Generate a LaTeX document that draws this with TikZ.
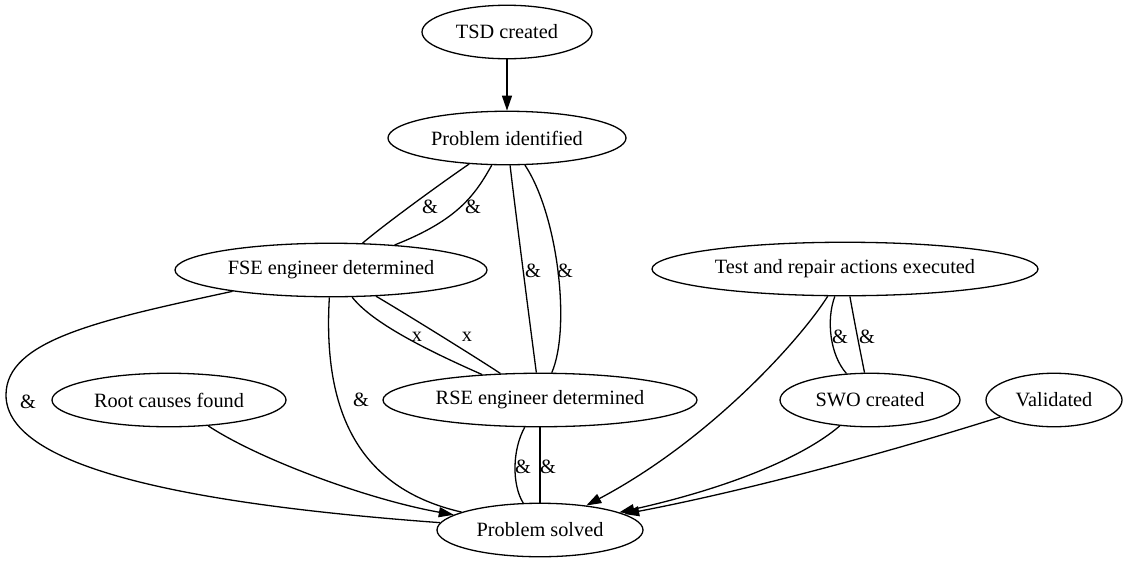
\documentclass[tikz,border=0pt]{standalone}
\usepackage{fontspec}
\setmainfont{Liberation Serif}
\usetikzlibrary{shapes.geometric,arrows.meta}

\begin{document}
\begin{tikzpicture}[x=1pt,y=1pt,line width=1.3pt]
\tikzstyle{every node}+=[inner sep=0pt, font=\fontsize{20.3pt}{24pt}\selectfont]
\tikzstyle{state}=[draw=black, ellipse, minimum height=53.5pt]
\tikzstyle{arr}=[-{Triangle[length=15pt,width=10pt]}]
\useasboundingbox (0,0) rectangle (1127,-563);
\node [state, minimum width=170pt] (tsd) at (507,-32) {TSD created};
\node [state, minimum width=238pt] (pid) at (507,-138) {Problem identified};
\node [state, minimum width=312pt] (fse) at (331,-270) {FSE engineer determined};
\node [state, minimum width=386pt] (tra) at (845,-269) {Test and repair actions executed};
\node [state, minimum width=234pt] (root) at (169,-400) {Root causes found};
\node [state, minimum width=314pt] (rse) at (540,-400) {RSE engineer determined};
\node [state, minimum width=180pt] (swo) at (870,-400) {SWO created};
\node [state, minimum width=136pt] (val) at (1054,-400) {Validated};
\node [state, minimum width=206pt] (ps) at (540,-530) {Problem solved};
\draw [black, arr] (tsd) -- (pid);
\draw [black] (pid) .. controls (440,-184) and (385,-224) .. (fse);
\node (and1) at (430,-207) {\&};
\draw [black] (pid) .. controls (475,-195) and (458,-220) .. (fse);
\node (and2) at (473,-207) {\&};
\draw [black] (pid) .. controls (514,-200) and (532,-340) .. (rse);
\node (and3) at (533,-271) {\&};
\draw [black] (pid) .. controls (558,-215) and (571,-328) .. (rse);
\node (and4) at (565,-271) {\&};
\draw [black] (fse) .. controls (370,-320) and (415,-345) .. (rse);
\node (x1) at (417,-337) {x};
\draw [black] (fse) .. controls (400,-310.2) and (480,-359.8) .. (rse);
\node (x2) at (467,-337) {x};
\draw [black] (fse) .. controls (100,-320) and (6,-340) .. (6,-395) .. controls (6,-470) and (200,-505) .. (ps);
\node (and5) at (28,-402) {\&};
\draw [black] (fse) .. controls (322,-420) and (365,-490) .. (ps);
\node (and6) at (361,-400) {\&};
\draw [black, arr] (root) .. controls (260,-460) and (370,-500) .. (ps);
\draw [black] (rse) .. controls (512,-450) and (512,-485) .. (ps);
\node (and7) at (523,-467) {\&};
\draw [black] (rse) -- (ps);
\node (and8) at (548,-467) {\&};
\draw [black, arr] (tra) .. controls (800,-340) and (710,-440) .. (ps);
\draw [black] (tra) .. controls (826,-320) and (830,-355) .. (swo);
\node (and9) at (840,-337) {\&};
\draw [black] (tra) .. controls (855,-325) and (860,-350) .. (swo);
\node (and10) at (867,-337) {\&};
\draw [black, arr] (swo) .. controls (800,-460) and (720,-490) .. (ps);
\draw [black, arr] (val) .. controls (880,-455) and (740,-492) .. (ps);
\end{tikzpicture}
\end{document}
